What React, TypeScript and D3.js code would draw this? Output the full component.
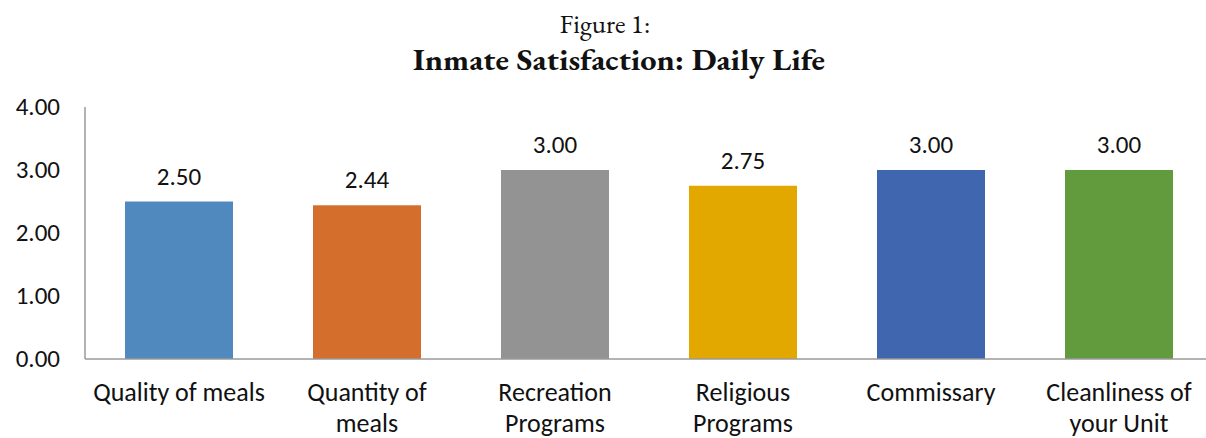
import React from "react";
import * as d3 from "d3";

const categories = [
  ["Quality of meals"],
  ["Quantity of", "meals"],
  ["Recreation", "Programs"],
  ["Religious", "Programs"],
  ["Commissary"],
  ["Cleanliness of", "your Unit"],
];
const values = [2.5, 2.44, 3.0, 2.75, 3.0, 3.0];
const colors = ["#4F89BD", "#D46E2C", "#939393", "#E2A800", "#3F66AE", "#629A3E"];
const yTicks = [0, 1, 2, 3, 4];

const W = 1206;
const H = 438;
const left = 85;
const right = 1213;
const top = 107;
const bottom = 359;

export default function App() {
  const keys = categories.map((c) => c.join(" "));
  const x = d3
    .scaleBand<string>()
    .domain(keys)
    .range([left, right])
    .paddingInner(80 / 188)
    .paddingOuter(40 / 188);
  const y = d3.scaleLinear().domain([0, 4]).range([bottom, top]);
  const sans = "Carlito, Calibri, Lato, sans-serif";
  const serif = "'EB Garamond', Garamond, 'Liberation Serif', serif";
  const fs = 25;
  return (
    <svg
      width={W}
      height={H}
      style={{ position: "absolute", left: 0, top: 0, background: "#fff" }}
    >
      <text x={605} y={33} textAnchor="middle" fontFamily={serif} fontSize={27} fill="#111">
        Figure 1:
      </text>
      <text
        x={619}
        y={70}
        textAnchor="middle"
        fontFamily={serif}
        fontSize={30}
        fontWeight="bold"
        fill="#111"
        textLength={412}
        lengthAdjust="spacingAndGlyphs"
      >
        Inmate Satisfaction: Daily Life
      </text>
      {yTicks.map((t) => (
        <text
          key={t}
          x={60}
          y={y(t) + 8}
          textAnchor="end"
          fontFamily={sans}
          fontSize={fs}
          fill="#111"
        >
          {t.toFixed(2)}
        </text>
      ))}
      {values.map((v, i) => (
        <g key={i}>
          <rect
            x={x(keys[i])}
            y={y(v)}
            width={x.bandwidth()}
            height={y(0) - y(v)}
            fill={colors[i]}
          />
          <text
            x={(x(keys[i]) as number) + x.bandwidth() / 2}
            y={y(v) - 17}
            textAnchor="middle"
            fontFamily={sans}
            fontSize={fs}
            fill="#111"
          >
            {v.toFixed(2)}
          </text>
          {categories[i].map((line, j) => (
            <text
              key={j}
              x={(x(keys[i]) as number) + x.bandwidth() / 2}
              y={401 + j * 31}
              textAnchor="middle"
              fontFamily={sans}
              fontSize={26}
              fill="#111"
            >
              {line}
            </text>
          ))}
        </g>
      ))}
      <line x1={left} x2={left} y1={top} y2={bottom} stroke="#9a9a9a" strokeWidth={1.5} />
      <line x1={left} x2={W} y1={bottom} y2={bottom} stroke="#9a9a9a" strokeWidth={1.5} />
    </svg>
  );
}
